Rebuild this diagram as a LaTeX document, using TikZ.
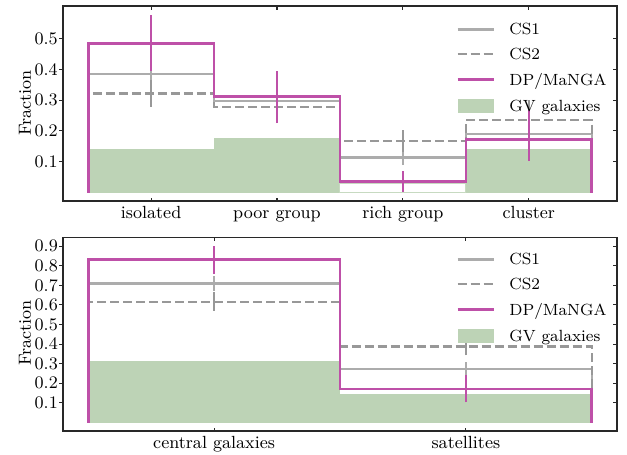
\documentclass[tikz,border=0pt]{standalone}
\usepackage{fontspec}
\definecolor{dpcol}{RGB}{190,80,168}
\definecolor{cs1col}{RGB}{172,172,172}
\definecolor{cs2col}{RGB}{152,152,152}
\definecolor{gvcol}{RGB}{189,211,182}
\definecolor{framecol}{RGB}{40,40,40}
\begin{document}
\begin{tikzpicture}[x=0.5pt,y=-0.5pt,
  frame/.style={draw=framecol,line width=0.65pt},
  tickmark/.style={draw=framecol,line width=0.55pt},
  ticklbl/.style={font=\fontsize{8.8}{10}\selectfont,inner sep=0pt},
  leglbl/.style={font=\fontsize{8.1}{10}\selectfont,inner sep=0pt,anchor=base west},
  cs1line/.style={draw=cs1col,line width=1.2pt,line join=miter},
  cs2line/.style={draw=cs2col,line width=1.2pt,dash pattern=on 4.5pt off 2pt,line join=miter},
  dpline/.style={draw=dpcol,line width=1.35pt,line join=miter},
  cs1err/.style={draw=cs1col,line width=1pt},
  cs2err/.style={draw=cs2col,line width=1pt},
  dperr/.style={draw=dpcol,line width=1pt},
  gvbar/.style={fill=gvcol},
]
\useasboundingbox (0,0) rectangle (627,455);

% ---------------- upper panel: environment ----------------
\begin{scope}[shift={(75.55pt,-96.25pt)},x=62.95pt,y=154pt]
  % green-valley galaxies
  \path[gvbar] (-0.5,0) rectangle (0.5,0.141);
  \path[gvbar] (0.5,0) rectangle (1.5,0.178);
  \draw[gvcol!85!white,line width=0.5pt] (1.5,0) rectangle (2.5,0.03);
  \path[gvbar] (2.5,0) rectangle (3.5,0.141);
  % CS1 and CS2 step histograms
  \draw[cs1line] (-0.5,0) -- (-0.5,0.385) -- (0.5,0.385) -- (0.5,0.298) -- (1.5,0.298)
     -- (1.5,0.113) -- (2.5,0.113) -- (2.5,0.19) -- (3.5,0.19) -- (3.5,0);
  \draw[cs2line] (-0.5,0) -- (-0.5,0.322) -- (0.5,0.322) -- (0.5,0.277) -- (1.5,0.277)
     -- (1.5,0.167) -- (2.5,0.167) -- (2.5,0.235) -- (3.5,0.235) -- (3.5,0);
  % CS error bars
  \draw[cs1err] (0,0.345) -- (0,0.425);
  \draw[cs2err] (0,0.279) -- (0,0.365);
  \draw[cs1err] (1,0.26) -- (1,0.336);
  \draw[cs2err] (1,0.24) -- (1,0.314);
  \draw[cs1err] (2,0.089) -- (2,0.137);
  \draw[cs2err] (2,0.131) -- (2,0.203);
  \draw[cs1err] (3,0.14) -- (3,0.24);
  \draw[cs2err] (3,0.17) -- (3,0.30);
  % DP/MaNGA
  \draw[dpline] (-0.5,0) -- (-0.5,0.484) -- (0.5,0.484) -- (0.5,0.311) -- (1.5,0.311)
     -- (1.5,0.035) -- (2.5,0.035) -- (2.5,0.173) -- (3.5,0.173) -- (3.5,0);
  \draw[dperr] (0,0.395) -- (0,0.576);
  \draw[dperr] (1,0.225) -- (1,0.395);
  \draw[dperr] (2,0.003) -- (2,0.071);
  \draw[dperr] (3,0.103) -- (3,0.268);
  % axes
  \draw[frame] (-0.7,-0.0276) rectangle (3.7,0.6055);
  \foreach \v in {0.1,0.2,0.3,0.4,0.5}{
    \draw[tickmark] (-0.7,\v) -- ++(-2pt,0);
    \draw[tickmark] (3.7,\v) -- ++(-1.75pt,0);
    \node[ticklbl,anchor=east,xshift=-2.4pt] at (-0.7,\v) {\v};
  }
  \foreach \c/\t in {0/isolated,1/poor group,2/rich group,3/cluster}{
    \draw[tickmark] (\c,-0.0276) -- ++(0,1.75pt);
    \draw[tickmark] (\c,0.6055) -- ++(0,-1.75pt);
    \node[ticklbl,anchor=base,yshift=-8.75pt] at (\c,-0.0276) {\t};
  }
\end{scope}

% ---------------- lower panel: centrals vs satellites ----------------
\begin{scope}[shift={(107.05pt,-211.25pt)},x=125.9pt,y=98pt]
  \path[gvbar] (-0.5,0) rectangle (0.5,0.314);
  \path[gvbar] (0.5,0) rectangle (1.5,0.144);
  \draw[cs1line] (-0.5,0) -- (-0.5,0.71) -- (0.5,0.71) -- (0.5,0.273) -- (1.5,0.273) -- (1.5,0);
  \draw[cs2line] (-0.5,0) -- (-0.5,0.616) -- (0.5,0.616) -- (0.5,0.387) -- (1.5,0.387) -- (1.5,0);
  \draw[cs1err] (0,0.672) -- (0,0.749);
  \draw[cs2err] (0,0.569) -- (0,0.664);
  \draw[cs1err] (1,0.238) -- (1,0.308);
  \draw[cs2err] (1,0.342) -- (1,0.432);
  \draw[dpline] (-0.5,0) -- (-0.5,0.831) -- (0.5,0.831) -- (0.5,0.171) -- (1.5,0.171) -- (1.5,0);
  \draw[dperr] (0,0.757) -- (0,0.90);
  \draw[dperr] (1,0.103) -- (1,0.242);
  \draw[frame] (-0.6,-0.0434) rectangle (1.6,0.945);
  \foreach \v in {0.1,0.2,0.3,0.4,0.5,0.6,0.7,0.8,0.9}{
    \draw[tickmark] (-0.6,\v) -- ++(-2pt,0);
    \draw[tickmark] (1.6,\v) -- ++(-1.75pt,0);
    \node[ticklbl,anchor=east,xshift=-2.4pt] at (-0.6,\v) {\v};
  }
  \foreach \c/\t in {0/central galaxies,1/satellites}{
    \draw[tickmark] (\c,-0.0434) -- ++(0,1.75pt);
    \draw[tickmark] (\c,0.945) -- ++(0,-1.75pt);
    \node[ticklbl,anchor=base,yshift=-8.75pt] at (\c,-0.0434) {\t};
  }
\end{scope}

% axis titles
\node[ticklbl,rotate=90] (ylabA) at (25,103) {Fraction};
\node[ticklbl,rotate=90] (ylabB) at (25,333) {Fraction};

% legends
\foreach \yo/\nm in {0/A,230/B}{
  \draw[cs1line] (457.7,29.3+\yo) -- (494.3,29.3+\yo);
  \node[leglbl] (cs1\nm) at (509,34.8+\yo) {CS1};
  \draw[cs2line] (457.7,54+\yo) -- (494.3,54+\yo);
  \node[leglbl] (cs2\nm) at (509,59.5+\yo) {CS2};
  \draw[dpline] (457.7,79.5+\yo) -- (494.3,79.5+\yo);
  \node[leglbl] (dp\nm) at (509,85+\yo) {DP/MaNGA};
  \fill[gvcol] (457.7,98.6+\yo) rectangle (494.3,112.6+\yo);
  \node[leglbl] (gv\nm) at (509,111+\yo) {GV galaxies};
}
\end{tikzpicture}
\end{document}
